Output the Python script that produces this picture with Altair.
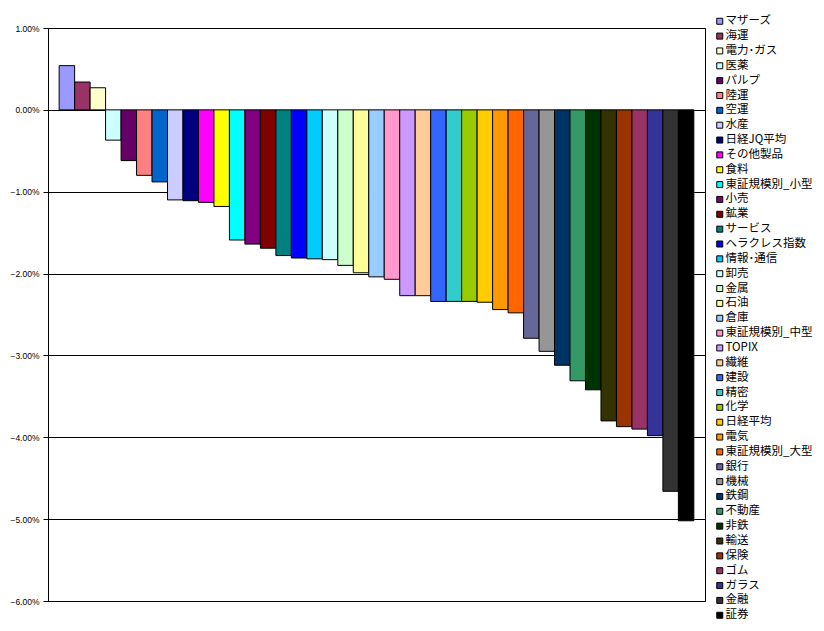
import altair as alt
import pandas as pd

categories = ["マザーズ", "海運", "電力･ガス", "医薬", "パルプ", "陸運", "空運", "水産", "日経JQ平均",
              "その他製品", "食料", "東証規模別_小型", "小売", "鉱業", "サービス", "ヘラクレス指数",
              "情報･通信", "卸売", "金属", "石油", "倉庫", "東証規模別_中型", "TOPIX", "繊維", "建設",
              "精密", "化学", "日経平均", "電気", "東証規模別_大型", "銀行", "機械", "鉄鋼", "不動産",
              "非鉄", "輸送", "保険", "ゴム", "ガラス", "金融", "証券"]

values = [0.54, 0.34, 0.27, -0.37, -0.62, -0.80, -0.88, -1.10, -1.11,
          -1.13, -1.18, -1.59, -1.64, -1.69, -1.78, -1.81,
          -1.82, -1.83, -1.90, -1.99, -2.04, -2.07, -2.27, -2.27, -2.34,
          -2.34, -2.34, -2.35, -2.44, -2.48, -2.79, -2.95, -3.12, -3.31,
          -3.42, -3.80, -3.87, -3.90, -3.98, -4.66, -5.02]

colors = ["#9999FF", "#993366", "#FFFFCC", "#CCFFFF", "#660066", "#FF8080", "#0066CC", "#CCCCFF",
          "#000080", "#FF00FF", "#FFFF00", "#00FFFF", "#800080", "#800000", "#008080", "#0000FF",
          "#00CCFF", "#CCFFFF", "#CCFFCC", "#FFFF99", "#99CCFF", "#FF99CC", "#CC99FF", "#FFCC99",
          "#3366FF", "#33CCCC", "#99CC00", "#FFCC00", "#FF9900", "#FF6600", "#666699", "#969696",
          "#003366", "#339966", "#003300", "#333300", "#993300", "#993366", "#333399", "#333333",
          "#000000"]

y_ticks = [1, 0, -1, -2, -3, -4, -5, -6]

df = pd.DataFrame({"name": categories, "value": [v / 100 for v in values]})

chart = alt.Chart(df).mark_bar(stroke="black", strokeWidth=1).encode(
    x=alt.X("name:N", sort=categories, title=None,
            scale=alt.Scale(paddingInner=0, paddingOuter=0.72),
            axis=None),
    y=alt.Y("value:Q", title=None,
            scale=alt.Scale(domain=[-0.06, 0.01], nice=False, zero=False),
            axis=alt.Axis(values=[t / 100 for t in y_ticks], format=".2%",
                          grid=True, gridColor="black", gridOpacity=1, gridWidth=1,
                          domainColor="black", domainWidth=1, tickColor="black",
                          tickSize=5, labelPadding=4, labelFont="Liberation Sans",
                          labelFontSize=8.5, labelColor="black")),
    color=alt.Color("name:N", sort=categories,
                    scale=alt.Scale(domain=categories, range=colors),
                    legend=alt.Legend(title=None, orient="none", legendX=666, legendY=-12.5,
                                      symbolType="square", symbolSize=36,
                                      symbolStrokeColor="black", symbolStrokeWidth=1,
                                      labelFont="Noto Sans CJK JP", labelFontSize=11.5,
                                      labelColor="black", labelOffset=0, rowPadding=1.85,
                                      padding=0, labelLimit=200, symbolLimit=0))
).properties(
    width=657, height=573,
    autosize=alt.AutoSizeParams(type="none"),
    padding={"left": 40, "top": 20, "right": 111, "bottom": 19},
    background="white",
).configure_view(
    stroke="black", strokeWidth=1
)

chart.save("out.html", embed_options={"renderer": "svg", "actions": False})
